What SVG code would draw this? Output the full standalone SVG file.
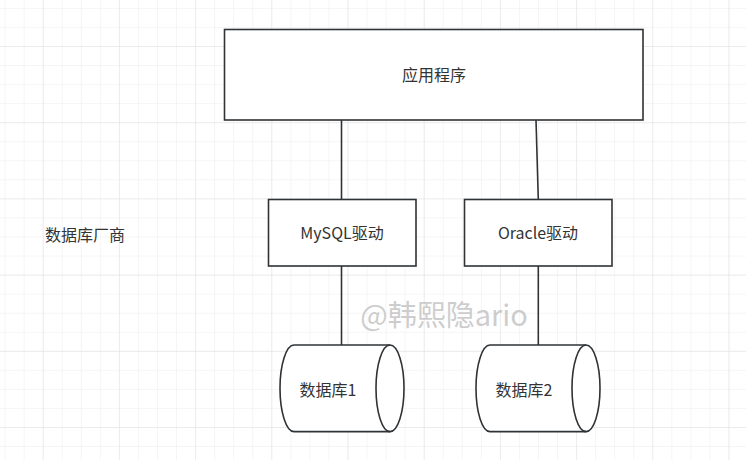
<svg xmlns="http://www.w3.org/2000/svg" width="746" height="460" viewBox="0 0 746 460">
<defs>
<pattern id="minor" x="4.6" y="7.9" width="19.05" height="19.05" patternUnits="userSpaceOnUse">
<path d="M0,0 V19.05 M0,0 H19.05" fill="none" stroke="#ececec" stroke-width="1"/>
</pattern>
<pattern id="major" x="42.7" y="46" width="76.2" height="76.2" patternUnits="userSpaceOnUse">
<path d="M0,0 V76.2 M0,0 H76.2" fill="none" stroke="#e2e2e2" stroke-width="1"/>
</pattern>
</defs>
<style>
.box{fill:#fff;stroke:#2f3336;stroke-width:1.6}
.ln{fill:none;stroke:#2f3336;stroke-width:1.6}
.t{font-family:"Noto Sans CJK SC","Noto Sans",sans-serif;font-size:16px;fill:#333;text-anchor:middle;dominant-baseline:central}
.wm{font-family:"Noto Sans CJK SC","Noto Sans",sans-serif;font-size:29px;fill:#c4c4c4;fill-opacity:0.85;text-anchor:middle;dominant-baseline:central}
</style>
<rect width="746" height="460" fill="#fff"/>
<rect width="746" height="460" fill="url(#minor)"/>
<rect width="746" height="460" fill="url(#major)"/>
<g id="connectors">
<path class="ln" d="M341.5,120 V199.5"/>
<path class="ln" d="M536,120 L538.3,199.5"/>
<path class="ln" d="M341.5,266 V345"/>
<path class="ln" d="M538.3,266 V345"/>
</g>
<g id="app">
<rect class="box" x="224.5" y="29.5" width="418.5" height="90.5"/>
<text class="t" x="434" y="74">应用程序</text>
</g>
<g id="vendor">
<text class="t" x="85" y="234">数据库厂商</text>
</g>
<g id="mysql">
<rect class="box" x="268.5" y="199.5" width="147.5" height="66.5"/>
<text class="t" x="342" y="232">MySQL驱动</text>
</g>
<g id="oracle">
<rect class="box" x="464.5" y="199.5" width="147.5" height="66.5"/>
<text class="t" x="538" y="232">Oracle驱动</text>
</g>
<g id="db1">
<path class="box" d="M294,345 H390 A14,43.3 0 0 1 390,431.6 H294 A14,43.3 0 0 1 294,345 Z"/>
<path class="ln" d="M390,345 A14,43.3 0 0 0 390,431.6"/>
<text class="t" x="328" y="389">数据库1</text>
</g>
<g id="db2">
<path class="box" d="M490,345 H586 A14,43.3 0 0 1 586,431.6 H490 A14,43.3 0 0 1 490,345 Z"/>
<path class="ln" d="M586,345 A14,43.3 0 0 0 586,431.6"/>
<text class="t" x="524" y="389">数据库2</text>
</g>
<text class="wm" x="444" y="313">@韩熙隐ario</text>
</svg>
